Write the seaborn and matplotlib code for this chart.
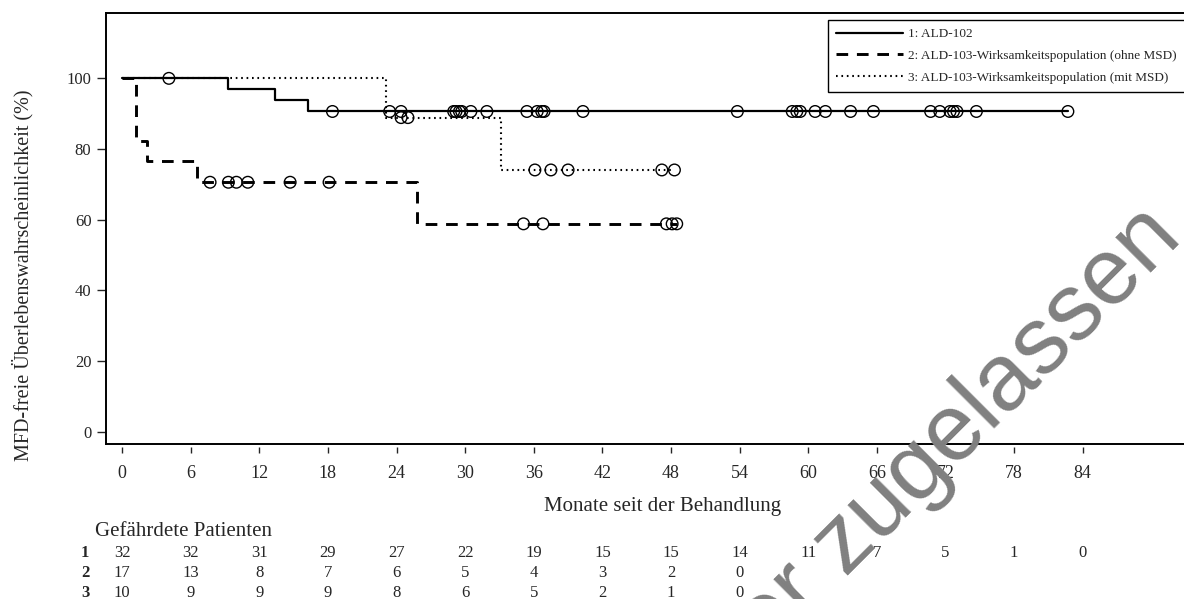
import matplotlib
matplotlib.use("Agg")
import matplotlib.pyplot as plt
import matplotlib.transforms as mtransforms
import seaborn as sns
import pandas as pd
import numpy as np

# Kaplan-Meier steps (months, survival %)
labels = [
    "1: ALD-102",
    "2: ALD-103-Wirksamkeitspopulation (ohne MSD)",
    "3: ALD-103-Wirksamkeitspopulation (mit MSD)",
]
t1 = [0, 9.3, 13.4, 16.3, 82.7]
s1 = [100, 96.875, 93.75, 90.625, 90.625]
t2 = [0, 1.2, 2.2, 6.6, 25.8, 48.5]
s2 = [100, 82.35, 76.47, 70.59, 58.82, 58.82]
t3 = [0, 23.1, 33.1, 48.3]
s3 = [100, 88.89, 74.07, 74.07]

# censored observations (months)
c1 = [18.4, 23.4, 24.4, 29.0, 29.2, 29.5, 29.7, 30.5, 31.9, 35.4, 36.3, 36.7,
      36.9, 40.3, 53.8, 58.6, 59.0, 59.3, 60.6, 61.5, 63.7, 65.7, 70.7, 71.5,
      72.4, 72.7, 73.0, 74.7, 82.7]
c2 = [7.7, 9.3, 10.0, 11.0, 14.7, 18.1, 35.1, 36.8, 47.6, 48.1, 48.5]
c3 = [4.1, 24.4, 25.0, 36.1, 37.5, 39.0, 47.2, 48.3]

# patients at risk
risk_times = [0, 6, 12, 18, 24, 30, 36, 42, 48, 54, 60, 66, 72, 78, 84]
risk1 = [32, 32, 31, 29, 27, 22, 19, 15, 15, 14, 11, 7, 5, 1, 0]
risk2 = [17, 13, 8, 7, 6, 5, 4, 3, 2, 0]
risk3 = [10, 9, 9, 9, 8, 6, 5, 2, 1, 0]

sns.set_style("white")
plt.rcParams["font.family"] = ["Liberation Serif", "DejaVu Serif"]

W, H = 1184, 599
fig = plt.figure(figsize=(W / 100, H / 100), dpi=100)
ax = fig.add_axes([106 / W, 155 / H, 1114 / W, 431 / H])

styles = [
    dict(linestyle="-", linewidth=1.6),
    dict(linestyle=(0, (4, 3)), linewidth=2.1),
    dict(linestyle=(0, (0.8, 1.8)), linewidth=1.5),
]
curves = [(t1, s1, c1), (t2, s2, c2), (t3, s3, c3)]

for (t, s, c), lab, st in zip(curves, labels, styles):
    df = pd.DataFrame({"monate": t, "surv": s})
    sns.lineplot(data=df, x="monate", y="surv", ax=ax, color="black",
                 drawstyle="steps-post", estimator=None, sort=False,
                 label=lab, **st)
    idx = np.searchsorted(t, c, side="right") - 1
    cens = pd.DataFrame({"monate": c, "surv": np.array(s)[idx]})
    sns.scatterplot(data=cens, x="monate", y="surv", ax=ax, marker="o",
                    s=70, facecolor="none", edgecolor="black", linewidth=1.0,
                    zorder=3)

ax.set_xlim(-1.4, 96.0)
ax.set_ylim(-3.5, 118.5)
ax.set_xticks(risk_times)
ax.set_yticks([0, 20, 40, 60, 80, 100])
ax.tick_params(axis="x", labelsize=13, length=4.5, width=1, direction="out",
               pad=8, bottom=True)
ax.tick_params(axis="y", labelsize=12, length=6.5, width=1, direction="out",
               pad=4, left=True)
for sp in ["top", "left"]:
    ax.spines[sp].set_linewidth(1.4)
    ax.spines[sp].set_color("black")
ax.spines["right"].set_visible(False)
# ticks sit a little below the frame line
ax.spines["bottom"].set_position(("outward", 2.5))
ax.spines["bottom"].set_color("none")
ax.axhline(-3.5, color="black", lw=1.4, clip_on=False)

ax.set_xlabel("Monate seit der Behandlung", fontsize=15, labelpad=11)
ax.set_ylabel("")
fig.text(22.7 / W, 1 - 275 / H, "MFD-freie Überlebenswahrscheinlichkeit (%)",
         rotation=90, ha="center", va="center", fontsize=14.5)

leg = ax.legend(loc="upper left", bbox_to_anchor=(828 / W, 1 - 20 / H),
                bbox_transform=fig.transFigure, borderaxespad=0, fontsize=9.5,
                handlelength=5.1, handletextpad=0.4, labelspacing=0.72,
                frameon=True, fancybox=False, framealpha=1, borderpad=0.6)
leg.get_frame().set_edgecolor("black")
leg.get_frame().set_linewidth(1.0)

# risk table
tr = mtransforms.blended_transform_factory(ax.transData, fig.transFigure)
fig.text(95 / W, 1 - 532 / H, "Gefährdete Patienten", ha="left", va="center",
         fontsize=15)
for row, (name, vals) in enumerate(zip(["1", "2", "3"], [risk1, risk2, risk3])):
    y = 1 - (553 + row * 20) / H
    fig.text(85 / W, y, name, ha="center", va="center", fontsize=12,
             fontweight="bold")
    for tt, v in zip(risk_times, vals):
        ax.text(tt, y, str(v), transform=tr, ha="center", va="center",
                fontsize=12)

# watermark
fig.text(1184 / W, 1 - 240 / H, "Arzneimittel nicht länger zugelassen",
         rotation=45, rotation_mode="anchor", ha="right", va="baseline",
         fontsize=68, color="#808080", family="Liberation Sans", zorder=10)

fig.savefig("out.png", dpi=100)
plt.close("all")
